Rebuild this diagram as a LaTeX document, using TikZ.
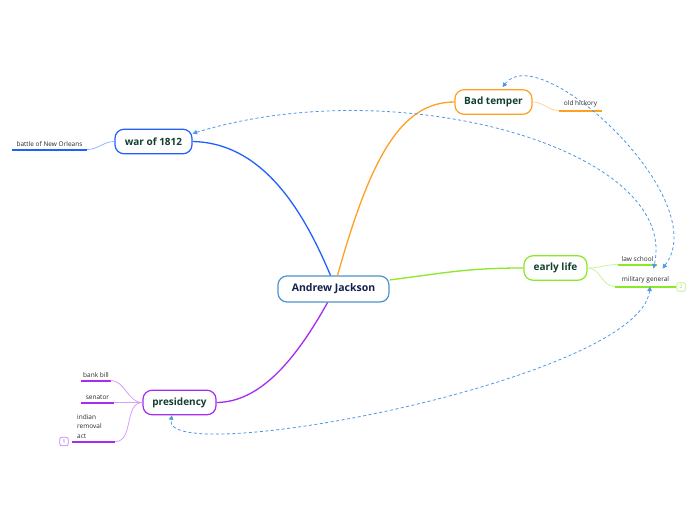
\documentclass[tikz,border=0pt]{standalone}
\usepackage{fontspec}
\setmainfont{Open Sans}
\usetikzlibrary{arrows.meta}
\definecolor{ink}{HTML}{123F2E}
\definecolor{navy}{HTML}{13214D}
\definecolor{central}{HTML}{4F93CC}
\definecolor{warblue}{HTML}{2160FF}
\definecolor{tempor}{HTML}{FFA024}
\definecolor{lifegreen}{HTML}{8AE827}
\definecolor{presp}{HTML}{A52CF2}
\definecolor{link}{HTML}{4E98E6}
\definecolor{subtext}{HTML}{2A2A2A}

\begin{document}
\begin{tikzpicture}[
  x=1pt, y=-1pt,
  topic/.style={draw=#1, line width=1.2pt, rounded corners=9pt, fill=white,
    text=ink, font=\fontsize{10}{12}\selectfont\bfseries,
    minimum height=24.5pt, inner sep=0pt},
  branch/.style={draw=#1, line width=1.3pt},
  twig/.style={draw=#1!45, line width=.8pt},
  leaf/.style={font=\fontsize{6.5}{9.5}\selectfont, text=subtext,
    inner xsep=1.5pt, inner ysep=3pt, anchor=south},
  under/.style={draw=#1, line width=2pt},
  badge/.style={draw=#1!60, line width=.7pt, rounded corners=2pt,
    minimum size=8.5pt, inner sep=0pt, font=\fontsize{5}{5}\selectfont, text=#1},
  relation/.style={draw=link, dash pattern=on 3pt off 2.5pt, line width=.8pt,
    arrows={Triangle[length=4.5pt,width=4.5pt]-Triangle[length=4.5pt,width=4.5pt]}}
]
  \fill[white] (0,0) rectangle (696,520);
  \useasboundingbox (0,0) rectangle (696,520);

  % main topics
  \node[topic=central, text=navy, minimum width=111pt, minimum height=26pt,
    font=\fontsize{10.5}{12}\selectfont\bfseries] (jackson) at (333.5,289) {Andrew Jackson};
  \node[topic=warblue, minimum width=77pt] (war) at (153.5,141.5) {war of 1812};
  \node[topic=tempor, minimum width=77pt] (temper) at (493.5,102) {Bad temper};
  \node[topic=lifegreen, minimum width=63pt] (life) at (555.5,268) {early life};
  \node[topic=presp, minimum width=73pt] (pres) at (179.5,402.5) {presidency};

  \draw[branch=warblue] ([xshift=-3pt]jackson.north) .. controls (305,215) and (265,143) .. (war.east);
  \draw[branch=tempor] ([xshift=4pt]jackson.north) .. controls (370,160) and (400,102) .. (temper.west);
  \draw[branch=lifegreen] ([yshift=9pt]jackson.east) .. controls (450,272) and (470,268) .. (life.west);
  \draw[branch=presp] ([xshift=-6pt]jackson.south) .. controls (290,370) and (255,402) .. (pres.east);

  % subtopics
  \node[leaf, minimum width=75pt] (orleans) at (49.5,149.5) {battle of New Orleans};
  \node[leaf, minimum width=43pt] (hickory) at (580.5,110.5) {old hickory};
  \node[leaf, minimum width=39pt] (law) at (637.5,264.5) {law school};
  \node[leaf, minimum width=61pt] (military) at (645.5,286.5) {military general};
  \node[leaf, minimum width=28pt] (bank) at (96,380.5) {bank bill};
  \node[leaf, minimum width=33pt] (senator) at (97.5,402.5) {senator};
  \node[leaf, anchor=south west, inner xsep=5pt, text width=33pt, align=left]
    (indian) at (72,441.5) {indian\\removal\\act};

  \draw[under=warblue] (orleans.south west) -- (orleans.south east);
  \draw[under=tempor] (hickory.south west) -- (hickory.south east);
  \draw[under=lifegreen] (law.south west) -- (law.south east);
  \draw[under=lifegreen] (military.south west) -- (military.south east);
  \draw[under=presp] (bank.south west) -- (bank.south east);
  \draw[under=presp] (senator.south west) -- (senator.south east);
  \draw[under=presp] (indian.south west) -- (indian.south east);

  \draw[twig=warblue] (war.west) to[out=180, in=0] (orleans.south east);
  \draw[twig=tempor] (temper.east) to[out=0, in=180] (hickory.south west);
  \draw[twig=lifegreen] (life.east) to[out=0, in=180] (law.south west);
  \draw[twig=lifegreen] (life.east) to[out=0, in=180] (military.south west);
  \draw[twig=presp] (pres.west) to[out=180, in=0] (bank.south east);
  \draw[twig=presp] (pres.west) to[out=180, in=0] (senator.south east);
  \draw[twig=presp] (pres.west) to[out=180, in=0] (indian.south east);

  \node[badge=lifegreen] (count2) at (681,287) {2};
  \node[badge=presp] (count1) at (64,441.5) {1};

  % relationships
  \draw[relation] ([yshift=8pt]war.east) .. controls (400,70) and (680,150)
    .. ([xshift=8pt, yshift=5pt]military.north);
  \draw[relation] ([xshift=9pt, yshift=2pt]temper.north) .. controls (540,38) and (715,200)
    .. ([xshift=17pt, yshift=5pt]military.north);
  \draw[relation] ([xshift=4.5pt]military.south) .. controls (640,380) and (160,470)
    .. ([xshift=-7.5pt]pres.south);
\end{tikzpicture}
\end{document}
